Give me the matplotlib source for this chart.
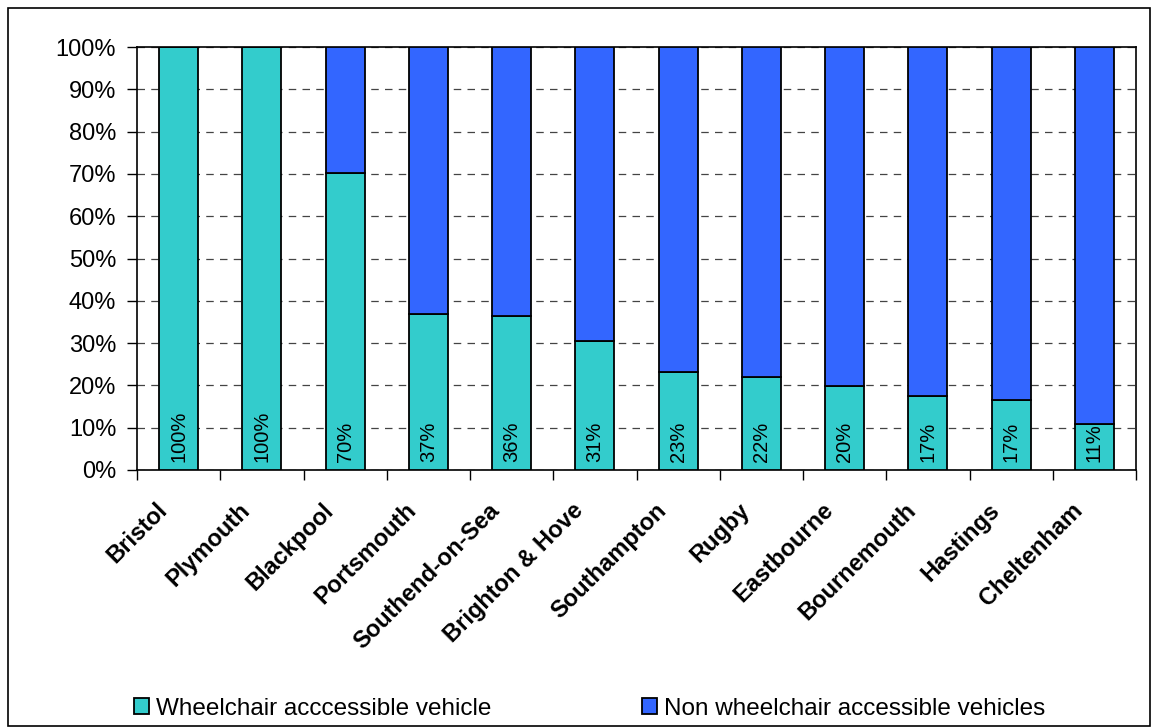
import numpy as np
import matplotlib.pyplot as plt
from matplotlib.patches import Rectangle
from matplotlib.transforms import ScaledTranslation

plt.rcParams['font.family'] = ['Liberation Sans', 'DejaVu Sans']

towns = ['Bristol', 'Plymouth', 'Blackpool', 'Portsmouth', 'Southend-on-Sea',
         'Brighton & Hove', 'Southampton', 'Rugby', 'Eastbourne', 'Bournemouth',
         'Hastings', 'Cheltenham']
wav = [100.0, 100.0, 70.3, 36.9, 36.4, 30.6, 23.2, 22.0, 19.8, 17.4, 16.6, 10.9]
wav_labels = ['100%', '100%', '70%', '37%', '36%', '31%', '23%', '22%', '20%',
              '17%', '17%', '11%']
non_wav = [100 - v for v in wav]

teal = '#33CCCC'
blue = '#3366FF'

fig = plt.figure(figsize=(11.54, 7.27), dpi=100)
ax = fig.add_axes([137 / 1154, 1 - 470 / 727, (1136 - 137) / 1154, (470 - 47) / 727])

x = np.arange(len(towns))
ax.bar(x, wav, width=0.47, color=teal, edgecolor='black', linewidth=1.3,
       label='Wheelchair acccessible vehicle', zorder=3)
ax.bar(x, non_wav, width=0.47, bottom=wav, color=blue, edgecolor='black',
       linewidth=1.3, label='Non wheelchair accessible vehicles', zorder=3)

for xi, lab in zip(x, wav_labels):
    ax.text(xi, 1.8, lab, rotation=90, ha='center', va='bottom', fontsize=14.5,
            zorder=4)

ax.set_xlim(-0.5, len(towns) - 0.5)
ax.set_ylim(0, 100)
ax.set_yticks(np.arange(0, 101, 10))
ax.set_yticklabels([f'{v}%' for v in range(0, 101, 10)], fontsize=17)
ax.yaxis.grid(True, linestyle=(0, (6, 5)), color='#444444', linewidth=0.9, zorder=0)

# category labels drawn by hand so they can be nudged like Excel places them
ax.set_xticks(np.arange(-0.5, len(towns), 1))
ax.set_xticklabels([])
ax.tick_params(axis='x', length=7, width=1, direction='out')
ax.tick_params(axis='y', length=7, width=1, direction='out', pad=8)
shift = ScaledTranslation(-17 / 100, -35 / 100, fig.dpi_scale_trans)
for xi, name in zip(x, towns):
    ax.text(xi, 0, name, transform=ax.get_xaxis_transform() + shift,
            rotation=45, ha='right', va='center_baseline', rotation_mode='anchor',
            fontsize=17, fontweight='bold')

for s in ax.spines.values():
    s.set_linewidth(1.2)
    s.set_color('black')

leg = fig.legend(loc='lower center', bbox_to_anchor=(0.511, -0.02), ncol=2,
                 frameon=False, fontsize=17.5, handlelength=0.6, handleheight=0.6,
                 handletextpad=0.3, columnspacing=6.2)

fig.patches.append(Rectangle((8 / 1154, 0.002), (1150 - 8) / 1154, 1 - 8 / 727 - 0.002,
                             transform=fig.transFigure, fill=False,
                             edgecolor='black', linewidth=1.2))

fig.savefig('out.png', dpi=100)
